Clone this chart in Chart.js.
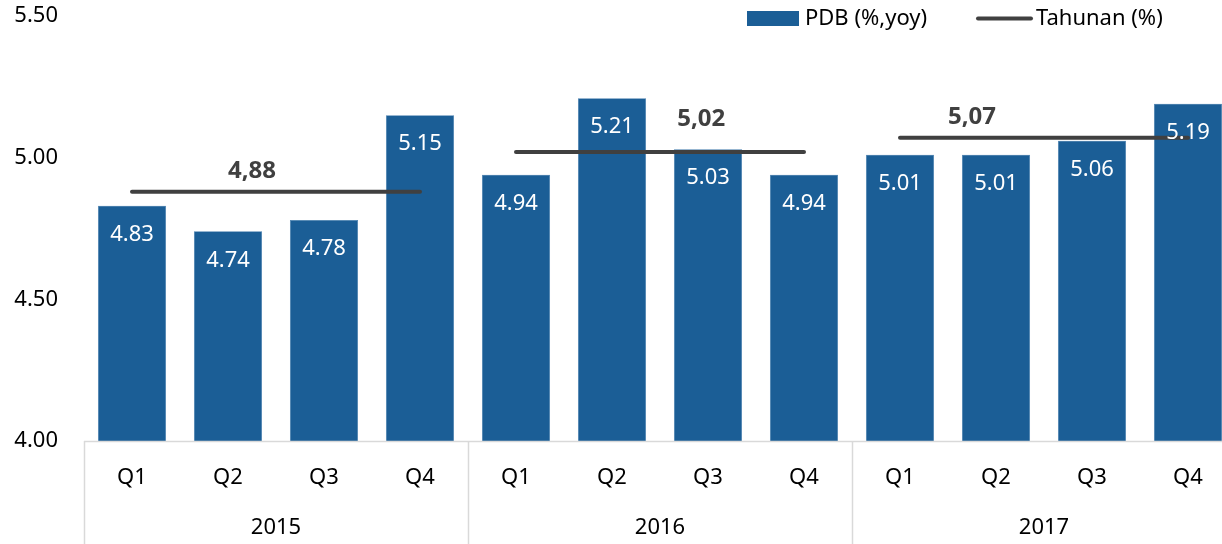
<!DOCTYPE html>
<html>
<head>
<meta charset="utf-8">
<script src="https://cdn.jsdelivr.net/npm/chart.js@4"></script>
<style>
  html, body { margin: 0; padding: 0; background: #fff; overflow: hidden; }
  #wrap { width: 1236px; height: 544px; }
</style>
</head>
<body>
<div id="wrap"><canvas id="chart" width="1236" height="544"></canvas></div>
<script>
// --- Data ---
const quarters = ["Q1", "Q2", "Q3", "Q4", "Q1", "Q2", "Q3", "Q4", "Q1", "Q2", "Q3", "Q4"];
const years = ["2015", "2016", "2017"];
const pdbYoy = [4.83, 4.74, 4.78, 5.15, 4.94, 5.21, 5.03, 4.94, 5.01, 5.01, 5.06, 5.19];
const annualAvg = [4.88, 5.02, 5.07];
const annualLabels = ["4,88", "5,02", "5,07"];
const yTicks = [4.0, 4.5, 5.0, 5.5];

const FONT = "'Noto Sans', 'Open Sans', sans-serif";
const BAR_COLOR = "#1B5E96";
const LINE_COLOR = "#404040";
const AXIS_COLOR = "#D9D9D9";

// annual line: same value for the 4 quarters of each year
const annualLine = quarters.map((q, i) => annualAvg[Math.floor(i / 4)]);

// where the annual labels sit (category index) and how far above the line
const annualLabelPos = [1.25, 5.93, 8.75];
const annualLabelGap = [9, 21, 9];

// --- Plugins ---
const barLabels = {
  id: "barLabels",
  afterDatasetsDraw(chart) {
    const c = chart.ctx;
    const meta = chart.getDatasetMeta(0);
    c.save();
    c.font = "22px " + FONT;
    c.fillStyle = "#fff";
    c.textAlign = "center";
    c.textBaseline = "middle";
    meta.data.forEach((bar, i) => {
      c.fillText(pdbYoy[i].toFixed(2), bar.x, bar.y + 29);
    });
    c.restore();
  }
};

const annualText = {
  id: "annualText",
  afterDatasetsDraw(chart) {
    const c = chart.ctx;
    const x = chart.scales.x, y = chart.scales.y;
    c.save();
    c.font = "bold 24px " + FONT;
    c.fillStyle = LINE_COLOR;
    c.textAlign = "center";
    c.textBaseline = "bottom";
    annualLabels.forEach((t, i) => {
      c.fillText(t, x.getPixelForValue(annualLabelPos[i]), y.getPixelForValue(annualAvg[i]) - annualLabelGap[i]);
    });
    c.restore();
  }
};

const groupAxis = {
  id: "groupAxis",
  afterDraw(chart) {
    const c = chart.ctx;
    const x = chart.scales.x;
    const area = chart.chartArea;
    const step = x.getPixelForValue(1) - x.getPixelForValue(0);
    c.save();
    c.strokeStyle = AXIS_COLOR;
    c.lineWidth = 1.5;
    c.beginPath();
    c.moveTo(area.left, area.bottom + 0.5);
    c.lineTo(area.right, area.bottom + 0.5);
    for (let g = 0; g <= years.length; g++) {
      const px = Math.round(area.left + g * 4 * step) + 0.5;
      c.moveTo(px, area.bottom);
      c.lineTo(px, chart.height);
    }
    c.stroke();
    c.font = "22px " + FONT;
    c.fillStyle = "#000";
    c.textAlign = "center";
    c.textBaseline = "middle";
    quarters.forEach((q, i) => c.fillText(q, x.getPixelForValue(i), area.bottom + 37));
    years.forEach((yr, g) => c.fillText(yr, x.getPixelForValue(g * 4 + 1.5), area.bottom + 87));
    c.restore();
  }
};

const customLegend = {
  id: "customLegend",
  afterDraw(chart) {
    const c = chart.ctx;
    c.save();
    c.font = "22px " + FONT;
    c.fillStyle = BAR_COLOR;
    c.fillRect(747, 11, 52, 15);
    c.fillStyle = "#000";
    c.textBaseline = "middle";
    c.textAlign = "left";
    c.fillText(chart.data.datasets[0].label, 805, 19);
    c.strokeStyle = LINE_COLOR;
    c.lineWidth = 4;
    c.lineCap = "round";
    c.beginPath();
    c.moveTo(978, 18.5);
    c.lineTo(1031, 18.5);
    c.stroke();
    c.fillText(chart.data.datasets[1].label, 1036, 19);
    c.restore();
  }
};

// --- Chart ---
new Chart(document.getElementById("chart"), {
  data: {
    labels: quarters,
    datasets: [
      {
        type: "bar",
        label: "PDB (%,yoy)",
        data: pdbYoy,
        backgroundColor: BAR_COLOR,
        borderColor: "#3A78AE",
        borderWidth: 0.5,
        barPercentage: 0.71,
        categoryPercentage: 1.0,
        order: 2
      },
      {
        type: "line",
        label: "Tahunan (%)",
        data: annualLine,
        borderColor: LINE_COLOR,
        borderWidth: 4,
        borderCapStyle: "round",
        pointRadius: 0,
        tension: 0,
        order: 1,
        segment: {
          borderColor: ctx => Math.floor(ctx.p0DataIndex / 4) === Math.floor(ctx.p1DataIndex / 4) ? LINE_COLOR : "rgba(0,0,0,0)"
        }
      }
    ]
  },
  options: {
    responsive: false,
    animation: false,
    layout: { padding: 0 },
    plugins: {
      legend: { display: false },
      tooltip: { enabled: false }
    },
    scales: {
      x: {
        grid: { display: false },
        border: { display: false },
        ticks: { display: false },
        afterFit(s) { s.height = 103; }
      },
      y: {
        min: 4.0,
        max: 5.5,
        afterBuildTicks(s) { s.ticks = yTicks.map(v => ({ value: v })); },
        grid: { display: false },
        border: { display: false },
        ticks: {
          color: "#000",
          font: { family: FONT, size: 22 },
          padding: 18,
          callback: v => v.toFixed(2)
        },
        afterFit(s) { s.width = 84; s.paddingTop = 16; }
      }
    }
  },
  plugins: [barLabels, annualText, groupAxis, customLegend]
});
</script>
</body>
</html>
